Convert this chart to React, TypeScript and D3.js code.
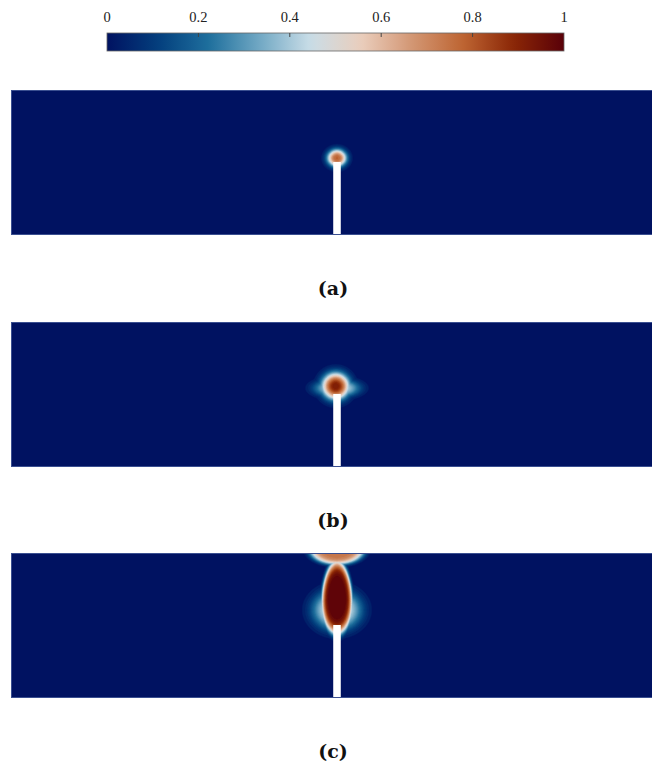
import React, { useMemo } from "react";
import * as d3 from "d3";

const W = 652;
const H = 773;

// Diverging colour map stops (navy -> white -> dark red), evenly spaced on [0, 1]
const mapStops = ["#001261", "#033E7D", "#1E6F9D", "#71A8C4", "#C9DDE7", "#EACEBD", "#D39774", "#BE6533", "#8B2706", "#590008"];
const colorbarTicks = [0, 0.2, 0.4, 0.6, 0.8, 1];
const panelLabels = ["(a)", "(b)", "(c)"];

// Plate geometry in model units (x centred on the notch)
const plateX = [-0.5, 0.5];
const plateY = [0, 0.2224];
const notchHalfWidth = 0.0058;
const notchTip = 0.112;

// Damage zones for each load stage: centre, radii, peak value, edge sharpness,
// and taper (how much the zone widens towards its lower end)
const zonesA = [{ cx: 0, cy: 0.118, rx: 0.0146, ry: 0.013, peak: 0.78, p: 2.5, taper: 0 }];
const zonesB = [
  { cx: -0.002, cy: 0.124, rx: 0.0207, ry: 0.02, peak: 0.92, p: 2.5, taper: 0 },
  { cx: 0, cy: 0.121, rx: 0.034, ry: 0.0138, peak: 0.45, p: 3, taper: 0 },
];
const zonesC = [
  { cx: 0, cy: 0.154, rx: 0.0225, ry: 0.056, peak: 1.0, p: 7, taper: 0.12 },
  { cx: 0, cy: 0.135, rx: 0.037, ry: 0.0307, peak: 0.5, p: 3, taper: 0 },
  { cx: 0, cy: 0.227, rx: 0.042, ry: 0.0222, peak: 0.74, p: 6, taper: 0 },
];
const stageZones = [zonesA, zonesB, zonesC];

type Zone = { cx: number; cy: number; rx: number; ry: number; peak: number; p: number; taper: number };

const colorMap = d3
  .scaleLinear<string>()
  .domain(mapStops.map((_, i) => i / (mapStops.length - 1)))
  .range(mapStops)
  .clamp(true);

function damage(zones: Zone[], x: number, y: number) {
  let v = 0;
  for (const z of zones) {
    const dyn = (y - z.cy) / z.ry;
    const rx = z.rx * Math.max(0.3, 1 - z.taper * dyn);
    const r = Math.sqrt(((x - z.cx) / rx) ** 2 + dyn ** 2);
    v = Math.max(v, z.peak * Math.exp(-Math.pow(r, z.p)));
  }
  return v;
}

const panelTops = [90, 322, 553];
const panelH = 145;
const plateLeft = 11;
const plateRight = 663;
const levelStep = 0.025;
const levels = d3.range(levelStep, 1.0, levelStep);

function Panel({ zones, top, label, idx }: { zones: Zone[]; top: number; label: string; idx: number }) {
  const x = d3.scaleLinear().domain(plateX).range([plateLeft, plateRight]);
  const y = d3.scaleLinear().domain(plateY).range([top + panelH, top]);

  const bands = useMemo(() => {
    const cxPx = x(0);
    const left = Math.round(cxPx - 60);
    const nx = 120;
    const ny = panelH;
    const values = new Array(nx * ny);
    for (let j = 0; j < ny; j++) {
      for (let i = 0; i < nx; i++) {
        values[i + j * nx] = damage(zones, x.invert(left + i + 0.5), y.invert(top + j + 0.5));
      }
    }
    const contours = d3.contours().size([nx, ny]).thresholds(levels)(values);
    const path = d3.geoPath(
      d3.geoTransform({
        point(px: number, py: number) {
          this.stream.point(left + px, top + py);
        },
      })
    );
    return contours.map((c) => ({ d: path(c) || "", color: colorMap(c.value + levelStep / 2) }));
  }, [zones, top]);

  const clipId = `plate-clip-${idx}`;
  return (
    <g>
      <defs>
        <clipPath id={clipId}>
          <rect x={plateLeft} y={top} width={plateRight - plateLeft} height={panelH} />
        </clipPath>
      </defs>
      <g clipPath={`url(#${clipId})`}>
        <rect x={plateLeft} y={top} width={plateRight - plateLeft} height={panelH} fill={colorMap(0)} />
        {bands.map((b, k) => (
          <path key={k} d={b.d} fill={b.color} stroke={b.color} strokeWidth={0.4} />
        ))}
        <rect
          x={x(-notchHalfWidth)}
          y={y(notchTip)}
          width={x(notchHalfWidth) - x(-notchHalfWidth)}
          height={y(0) - y(notchTip)}
          fill="#ffffff"
        />
      </g>
      <rect
        x={plateLeft + 0.5}
        y={top + 0.5}
        width={plateRight - plateLeft}
        height={panelH - 1}
        fill="none"
        stroke="#3a4f90"
        strokeWidth={1}
      />
      <text
        x={333}
        y={top + 205}
        textAnchor="middle"
        fontFamily="'DejaVu Serif', serif"
        fontWeight="bold"
        fontSize={19}
        fill="#111"
      >
        {label}
      </text>
    </g>
  );
}

function Colorbar() {
  const x0 = 107;
  const x1 = 564;
  const yTop = 33;
  const h = 18;
  const s = d3.scaleLinear().domain([0, 1]).range([x0, x1]);
  const gradStops = d3.range(0, 1.0001, 0.02);
  return (
    <g>
      <defs>
        <linearGradient id="cbar-grad" x1="0" x2="1" y1="0" y2="0">
          {gradStops.map((t, i) => (
            <stop key={i} offset={t} stopColor={colorMap(t)} />
          ))}
        </linearGradient>
      </defs>
      <rect x={x0} y={yTop} width={x1 - x0} height={h} fill="url(#cbar-grad)" stroke="#666" strokeWidth={0.8} />
      {colorbarTicks.map((t) => (
        <g key={t}>
          {t > 0 && t < 1 && <line x1={s(t)} x2={s(t)} y1={yTop} y2={yTop + 4} stroke="#444" strokeWidth={1} />}
          <text
            x={s(t)}
            y={22}
            textAnchor="middle"
            fontFamily="'Liberation Serif', serif"
            fontSize={14.5}
            fill="#222"
          >
            {t}
          </text>
        </g>
      ))}
    </g>
  );
}

export default function App() {
  return (
    <svg
      width={W}
      height={H}
      viewBox={`0 0 ${W} ${H}`}
      style={{ position: "absolute", left: 0, top: 0, background: "#fff" }}
    >
      <Colorbar />
      {stageZones.map((z, i) => (
        <Panel key={i} idx={i} zones={z} top={panelTops[i]} label={panelLabels[i]} />
      ))}
    </svg>
  );
}
